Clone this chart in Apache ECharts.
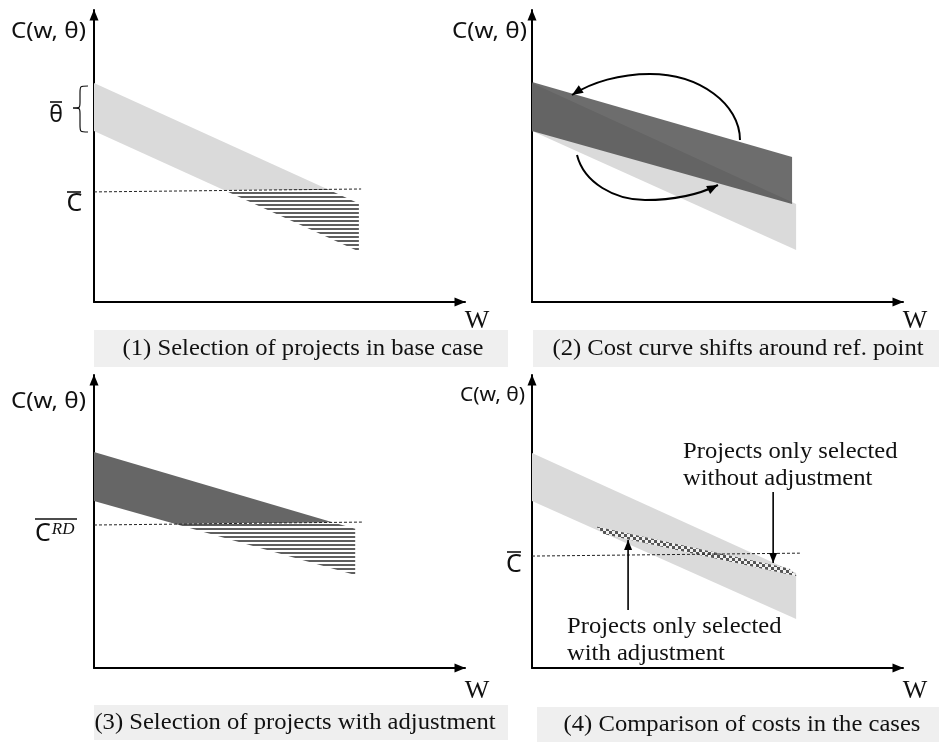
<!DOCTYPE html>
<html><head><meta charset="utf-8">
<script src="https://cdn.jsdelivr.net/npm/echarts@6/dist/echarts.min.js"></script>
<style>html,body{margin:0;padding:0;background:#fff}#c{width:939px;height:742px}</style>
</head><body><div id="c"></div>
<script>
// ---------- data (both axes in abstract units 0..100) ----------
// Panel 1: base-case cost band and cost threshold C-bar
const p1BandX = [0, 71.4];
const p1BandTop = [75.0, 33.7];
const p1BandBottom = [58.6, 17.3];
const p1CutX = [0, 72.0];
const p1CutY = [37.7, 38.7];

// Panel 2: base band (light) and rotated band (dark)
const p2LightX = [0, 71.2];
const p2LightTop = [75.0, 33.6];
const p2LightBottom = [58.6, 17.8];
const p2DarkX = [0, 70.1];
const p2DarkTop = [75.3, 49.7];
const p2DarkBottom = [58.6, 33.6];
// curved arrows, two cubic segments each: P0, C1, C2, P1, C3, C4, P2
const p2ArcUpperX = [56.06, 56.06, 45.15, 31.81, 23.72, 16.17, 10.78];
const p2ArcUpperY = [55.48, 67.81, 78.08, 78.08, 78.08, 75.34, 70.89];
const p2ArcLowerX = [12.13, 14.02, 22.37, 30.46, 38.54, 45.28, 50.13];
const p2ArcLowerY = [50.34, 40.75, 34.93, 34.93, 34.93, 36.99, 40.07];

// Panel 3: adjusted band and threshold C^RD
const p3BandX = [0, 70.4];
const p3BandTop = [73.7, 47.5];
const p3BandBottom = [57.0, 31.7];
const p3CutX = [0, 72.2];
const p3CutY = [48.8, 49.8];

// Panel 4: comparison
const p4BandX = [0, 71.2];
const p4BandTop = [73.4, 32.4];
const p4BandBottom = [57.0, 16.7];
const p4CutX = [0, 72.2];
const p4CutY = [38.2, 39.2];
const p4SliverUpperX = [17.3, 69.3];
const p4SliverUpperY = [48.3, 34.0];
const p4SliverLowerX = [19.3, 71.4];
const p4SliverLowerY = [45.7, 31.3];
const p4ArrowDownX = [65.0, 65.0];
const p4ArrowDownY = [60.1, 35.8];
const p4ArrowUpX = [25.9, 25.9];
const p4ArrowUpY = [19.8, 43.7];

// text
const yName = 'C(w, θ)';
const xName = 'W';
const captions = ['(1) Selection of projects in base case', '(2) Cost curve shifts around ref. point',
                  '(3) Selection of projects with adjustment', '(4) Comparison of costs in the cases'];
const noteWithout = ['Projects only selected', 'without adjustment'];
const noteWith = ['Projects only selected', 'with adjustment'];

// ---------- styles ----------
const LIGHT = '#dadada';
const DARK = '#666666';
const SERIF = '"Liberation Serif", "Times New Roman", serif';
const SANS = '"Noto Sans", "DejaVu Sans", sans-serif';

function makePattern(kind) {
  const cv = document.createElement('canvas');
  const ctx = cv.getContext('2d');
  if (kind === 'stripe') {
    cv.width = 4; cv.height = 4;
    ctx.fillStyle = '#fff'; ctx.fillRect(0, 0, 4, 4);
    ctx.fillStyle = '#5f5f5f'; ctx.fillRect(0, 0, 4, 2);
  } else {
    cv.width = 6; cv.height = 6;
    ctx.fillStyle = '#f2f2f2'; ctx.fillRect(0, 0, 6, 6);
    ctx.fillStyle = '#555555'; ctx.fillRect(0, 0, 3, 3); ctx.fillRect(3, 3, 3, 3);
  }
  return { image: cv, repeat: 'repeat' };
}
const STRIPES = makePattern('stripe');
const CHECKS = makePattern('check');

function bandPoly(x, top, bot) {
  return [[x[0], top[0]], [x[1], top[1]], [x[1], bot[1]], [x[0], bot[0]]];
}
function clipPoly(poly, a, b, keepAbove) {
  const side = p => ((b[0] - a[0]) * (p[1] - a[1]) - (b[1] - a[1]) * (p[0] - a[0])) * (keepAbove ? 1 : -1);
  const out = [];
  for (let i = 0; i < poly.length; i++) {
    const P = poly[i], Q = poly[(i + 1) % poly.length];
    const sp = side(P), sq = side(Q);
    if (sp >= 0) out.push(P);
    if ((sp >= 0) !== (sq >= 0)) {
      const t = sp / (sp - sq);
      out.push([P[0] + t * (Q[0] - P[0]), P[1] + t * (Q[1] - P[1])]);
    }
  }
  return out;
}
function head(tip, from, len, wid) {
  const dx = tip[0] - from[0], dy = tip[1] - from[1];
  const l = Math.hypot(dx, dy); const ux = dx / l, uy = dy / l;
  const bx = tip[0] - ux * len, by = tip[1] - uy * len;
  return { type: 'polygon', shape: { points: [tip, [bx - uy * wid / 2, by + ux * wid / 2], [bx + uy * wid / 2, by - ux * wid / 2]] },
           style: { fill: '#000' } };
}

function splitBand(x, top, bot, cx, cy, fillAbove, fillBelow) {
  return function (params, api) {
    const poly = bandPoly(x, top, bot);
    const a = [cx[0], cy[0]], b = [cx[1], cy[1]];
    const above = clipPoly(poly, a, b, true).map(p => api.coord(p));
    const below = clipPoly(poly, a, b, false).map(p => api.coord(p));
    return { type: 'group', children: [
      { type: 'polygon', shape: { points: above }, style: { fill: fillAbove } },
      { type: 'polygon', shape: { points: below }, style: { fill: fillBelow } }
    ] };
  };
}

function custom(idx, renderItem, z) {
  return { type: 'custom', xAxisIndex: idx, yAxisIndex: idx, data: [[0, 0]], clip: false, silent: true, z: z || 2, renderItem };
}
function dashed(idx, xs, ys) {
  return { type: 'line', xAxisIndex: idx, yAxisIndex: idx, data: xs.map((v, i) => [v, ys[i]]), symbol: 'none', silent: true, z: 5,
           lineStyle: { color: '#222', width: 1, type: [3, 2] } };
}

const grids = [
  { left: 94, top: 10, width: 371, height: 292 },
  { left: 532, top: 10, width: 371, height: 292 },
  { left: 94, top: 375, width: 371, height: 293 },
  { left: 532, top: 375, width: 371, height: 293 }
];
const axisBase = {
  type: 'value', min: 0, max: 100,
  axisLine: { show: true, onZero: false, symbol: ['none', 'triangle'], symbolSize: [9, 11], symbolOffset: [0, -5],
              lineStyle: { color: '#000', width: 2 } },
  axisTick: { show: false }, axisLabel: { show: false }, splitLine: { show: false }
};

const series = [
  // panel 1
  custom(0, splitBand(p1BandX, p1BandTop, p1BandBottom, p1CutX, p1CutY, LIGHT, STRIPES)),
  dashed(0, p1CutX, p1CutY),
  // panel 2
  custom(1, function (params, api) {
    const light = bandPoly(p2LightX, p2LightTop, p2LightBottom).map(p => api.coord(p));
    const dark = bandPoly(p2DarkX, p2DarkTop, p2DarkBottom).map(p => api.coord(p));
    return { type: 'group', children: [
      { type: 'polygon', shape: { points: light }, style: { fill: LIGHT } },
      { type: 'polygon', shape: { points: dark }, style: { fill: 'rgba(60,60,60,0.75)' } }
    ] };
  }),
  custom(1, function (params, api) {
    const kids = [];
    [[p2ArcUpperX, p2ArcUpperY], [p2ArcLowerX, p2ArcLowerY]].forEach(([xs, ys]) => {
      const P = xs.map((v, i) => api.coord([v, ys[i]]));
      for (let s = 0; s + 3 < P.length; s += 3) {
        kids.push({ type: 'bezierCurve', shape: { x1: P[s][0], y1: P[s][1], cpx1: P[s + 1][0], cpy1: P[s + 1][1],
                    cpx2: P[s + 2][0], cpy2: P[s + 2][1], x2: P[s + 3][0], y2: P[s + 3][1] },
                    style: { stroke: '#000', lineWidth: 2, fill: null } });
      }
      const n = P.length;
      kids.push(head(P[n - 1], P[n - 2], 11, 9));
    });
    return { type: 'group', children: kids };
  }, 6),
  // panel 3
  custom(2, splitBand(p3BandX, p3BandTop, p3BandBottom, p3CutX, p3CutY, DARK, STRIPES)),
  dashed(2, p3CutX, p3CutY),
  // panel 4
  custom(3, function (params, api) {
    const light = bandPoly(p4BandX, p4BandTop, p4BandBottom).map(p => api.coord(p));
    const sliver = [[p4SliverUpperX[0], p4SliverUpperY[0]], [p4SliverUpperX[1], p4SliverUpperY[1]],
                    [p4SliverLowerX[1], p4SliverLowerY[1]], [p4SliverLowerX[0], p4SliverLowerY[0]]].map(p => api.coord(p));
    return { type: 'group', children: [
      { type: 'polygon', shape: { points: light }, style: { fill: LIGHT } },
      { type: 'polygon', shape: { points: sliver }, style: { fill: CHECKS } }
    ] };
  }),
  dashed(3, p4CutX, p4CutY),
  custom(3, function (params, api) {
    const kids = [];
    [[p4ArrowDownX, p4ArrowDownY], [p4ArrowUpX, p4ArrowUpY]].forEach(([xs, ys]) => {
      const A = api.coord([xs[0], ys[0]]), B = api.coord([xs[1], ys[1]]);
      kids.push({ type: 'line', shape: { x1: A[0], y1: A[1], x2: B[0], y2: B[1] }, style: { stroke: '#000', lineWidth: 1.6 } });
      kids.push(head(B, A, 10, 8));
    });
    return { type: 'group', children: kids };
  }, 6)
];

function txt(x, y, text, font, align, sx) {
  return { type: 'text', x, y, z: 10, silent: true, scaleX: sx || 1,
    style: { text, font, fill: '#111', align: align || 'center', textAlign: align || 'center',
             verticalAlign: 'middle', textVerticalAlign: 'middle' } };
}
function seg(x1, y1, x2, y2, w) {
  return { type: 'line', z: 10, silent: true, shape: { x1, y1, x2, y2 }, style: { stroke: '#111', lineWidth: w || 1.6 } };
}
function curve(x1, y1, cx, cy, x2, y2) {
  return { type: 'bezierCurve', z: 10, silent: true, shape: { x1, y1, cpx1: cx, cpy1: cy, cpx2: cx, cpy2: cy, x2, y2 },
           style: { stroke: '#111', lineWidth: 1.2, fill: null } };
}

const CAP = '23px ' + SERIF, CAPSX = 1.07;
const graphic = [
  // caption boxes
  { type: 'rect', shape: { x: 94, y: 330, width: 414, height: 37 }, style: { fill: '#efefef' } },
  { type: 'rect', shape: { x: 533, y: 330, width: 406, height: 37 }, style: { fill: '#efefef' } },
  { type: 'rect', shape: { x: 94, y: 705, width: 414, height: 35 }, style: { fill: '#efefef' } },
  { type: 'rect', shape: { x: 537, y: 707, width: 402, height: 35 }, style: { fill: '#efefef' } },
  txt(303, 349, captions[0], CAP, 'center', CAPSX),
  txt(738, 349, captions[1], CAP, 'center', CAPSX),
  txt(295, 723, captions[2], CAP, 'center', CAPSX),
  txt(742, 725, captions[3], CAP, 'center', CAPSX),
  // axis names
  txt(86, 32, yName, '22px ' + SANS, 'right', 1.1),
  txt(527, 32, yName, '22px ' + SANS, 'right', 1.1),
  txt(86, 402, yName, '22px ' + SANS, 'right', 1.1),
  txt(525, 395, yName, '20px ' + SANS, 'right', 1.05),
  txt(477, 321, xName, '26px ' + SERIF),
  txt(915, 321, xName, '26px ' + SERIF),
  txt(477, 691, xName, '26px ' + SERIF),
  txt(915, 691, xName, '26px ' + SERIF),
  // theta-bar with brace
  txt(56, 115, 'θ', '23px ' + SANS),
  seg(50, 102, 62, 102, 1.6),
  curve(88, 86, 80, 86, 80, 93),
  seg(80, 93, 80, 102, 1.2),
  curve(80, 102, 80, 108, 73, 108),
  curve(73, 108, 80, 108, 80, 114),
  seg(80, 114, 80, 125, 1.2),
  curve(80, 125, 80, 132, 88, 132),
  // C-bar panel 1
  txt(74.5, 204, 'C', '25px ' + SANS),
  seg(67, 192, 81, 192, 1.6),
  // C^RD bar panel 3
  { type: 'text', x: 35, y: 534, z: 10, silent: true,
    style: { text: '{c|C}{s|RD}', fill: '#111', align: 'left', textAlign: 'left', verticalAlign: 'middle', textVerticalAlign: 'middle',
             rich: { c: { font: '25px ' + SANS, fill: '#111' }, s: { font: 'italic 17px ' + SERIF, fill: '#111', verticalAlign: 'top', padding: [0, 0, 9, 1] } } } },
  seg(35, 519, 77, 519, 1.6),
  // C-bar panel 4
  txt(514, 565, 'C', '25px ' + SANS),
  seg(507, 552, 521, 552, 1.6),
  // panel 4 notes
  txt(683, 452, noteWithout[0], CAP, 'left', CAPSX),
  txt(683, 479, noteWithout[1], CAP, 'left', CAPSX),
  txt(567, 627, noteWith[0], CAP, 'left', CAPSX),
  txt(567, 654, noteWith[1], CAP, 'left', CAPSX)
];

const chart = echarts.init(document.getElementById('c'), null, { renderer: 'canvas' });
chart.setOption({
  animation: false,
  backgroundColor: '#fff',
  grid: grids,
  xAxis: grids.map((g, i) => Object.assign({ gridIndex: i }, axisBase)),
  yAxis: grids.map((g, i) => Object.assign({ gridIndex: i }, axisBase)),
  series,
  graphic
});
</script></body></html>
